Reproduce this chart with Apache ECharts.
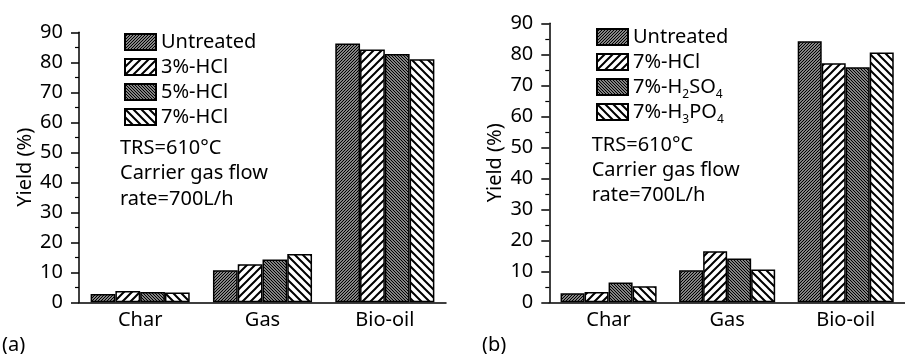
<!DOCTYPE html>
<html>
<head>
<meta charset="utf-8">
<script src="https://cdn.jsdelivr.net/npm/echarts@6/dist/echarts.min.js"></script>
<style>
  html, body { margin: 0; padding: 0; background: #fff; }
  #chart { width: 905px; height: 354px; }
</style>
</head>
<body>
<div id="chart"></div>
<script>
// Product categories shared by both panels
const categories = ['Char', 'Gas', 'Bio-oil'];

// Panel (a): HCl concentration series (yield, %)
const labelsA = ['Untreated', '3%-HCl', '5%-HCl', '7%-HCl'];
const untreatedA = [2.8, 10.7, 86.3];
const hcl3A = [3.8, 12.7, 84.3];
const hcl5A = [3.4, 14.3, 82.8];
const hcl7A = [3.3, 16.1, 81.0];

// Panel (b): acid type series (yield, %)
const labelsB = ['Untreated', '7%-HCl', '7%-H{s|2}SO{s|4}', '7%-H{s|3}PO{s|4}'];
const untreatedB = [2.9, 10.3, 84.2];
const hcl7B = [3.3, 16.5, 77.1];
const h2so4B = [6.4, 14.1, 75.8];
const h3po4B = [5.2, 10.6, 80.6];

// Experimental conditions printed inside each panel
const notes = ['TRS=610°C', 'Carrier gas flow', 'rate=700L/h'];
const panelTags = ['(a)', '(b)'];

const FONT = '"Noto Sans", "DejaVu Sans", sans-serif';

// Diagonal hatch fills drawn on a small tile canvas
function hatch(period, width, rising) {
  const c = document.createElement('canvas');
  c.width = c.height = period;
  const g = c.getContext('2d');
  g.fillStyle = '#fff';
  g.fillRect(0, 0, period, period);
  g.strokeStyle = '#000';
  g.lineWidth = width;
  g.beginPath();
  for (let k = 0; k <= 2; k++) {
    if (rising) {
      g.moveTo(k * period - period - 1, period + 1);
      g.lineTo(k * period + 1, -1);
    } else {
      g.moveTo(k * period - period - 1, -1);
      g.lineTo(k * period + 1, period + 1);
    }
  }
  g.stroke();
  return { image: c, repeat: 'repeat' };
}

const denseRise = hatch(3, 1.4, true);
const wideRise = hatch(8, 2, true);
const denseFall = hatch(3, 1.4, false);
const wideFall = hatch(8, 2, false);

const fillsA = [denseRise, wideRise, denseFall, wideFall];
const fillsB = [denseRise, wideRise, denseFall, wideFall];

const valuesA = [untreatedA, hcl3A, hcl5A, hcl7A];
const valuesB = [untreatedB, hcl7B, h2so4B, h3po4B];

// Series ids for panel (b) carry a prefix so both legends stay independent
const namesA = labelsA.slice();
const namesB = labelsB.map(l => 'b:' + l);

function makeBars(names, values, fills, idx) {
  return names.map((n, i) => ({
    name: n,
    type: 'bar',
    xAxisIndex: idx,
    yAxisIndex: idx,
    data: values[i],
    barGap: '0%',
    barCategoryGap: '19%',
    itemStyle: { color: fills[i], borderColor: '#000', borderWidth: 1.5 },
    emphasis: { disabled: true }
  }));
}

const axisLineStyle = { color: '#000', width: 1.5 };

function yAxisFor(idx) {
  return {
    type: 'value', gridIndex: idx, min: 0, max: 90, interval: 10,
    name: 'Yield (%)', nameLocation: 'middle', nameGap: 44,
    nameTextStyle: { fontSize: 20, fontFamily: FONT, color: '#000' },
    axisLine: { show: true, lineStyle: axisLineStyle },
    axisTick: { show: true, length: 8, lineStyle: axisLineStyle },
    minorTick: { show: true, splitNumber: 2, length: 4, lineStyle: { color: '#000', width: 1.2 } },
    splitLine: { show: false },
    axisLabel: { fontSize: 20, fontFamily: FONT, color: '#000', margin: 16 }
  };
}

function xAxisFor(idx) {
  return {
    type: 'category', gridIndex: idx, data: categories,
    axisLine: { show: true, lineStyle: axisLineStyle },
    axisTick: { show: false },
    axisLabel: { fontSize: 20, fontFamily: FONT, color: '#000', margin: 8 },
    splitLine: { show: false }
  };
}

function legendFor(names, left, top, formatter) {
  return {
    orient: 'vertical', left: left, top: top,
    itemWidth: 31, itemHeight: 16, itemGap: -3, icon: 'rect',
    selectedMode: false,
    data: names,
    formatter: formatter,
    textStyle: {
      fontSize: 20, fontFamily: FONT, color: '#000', lineHeight: 28,
      rich: { s: { fontSize: 12, lineHeight: 12, fontFamily: FONT, color: '#000', verticalAlign: 'bottom' } }
    }
  };
}

function noteTexts(x, y0, step) {
  return notes.map((t, i) => ({
    type: 'text', x: x, y: y0 + i * step, silent: true,
    style: { text: t, font: '20px ' + FONT, fill: '#000', verticalAlign: 'middle' }
  }));
}

const chart = echarts.init(document.getElementById('chart'), null, { renderer: 'canvas' });

chart.setOption({
  animation: false,
  backgroundColor: '#fff',
  grid: [
    { left: 79, top: 32.3, width: 367, height: 270 },
    { left: 549.3, top: 23.3, width: 368, height: 279 }
  ],
  xAxis: [xAxisFor(0), xAxisFor(1)],
  yAxis: [yAxisFor(0), yAxisFor(1)],
  legend: [
    legendFor(namesA, 119, 23, n => n),
    legendFor(namesB, 591, 18, n => n.slice(2))
  ],
  series: makeBars(namesA, valuesA, fillsA, 0).concat(makeBars(namesB, valuesB, fillsB, 1)),
  graphic: noteTexts(120, 148, 25.5).concat(noteTexts(591.7, 145.7, 24.7)).concat([
    { type: 'text', x: 2, y: 345, silent: true,
      style: { text: panelTags[0], font: '20px ' + FONT, fill: '#000', verticalAlign: 'middle' } },
    { type: 'text', x: 482, y: 345, silent: true,
      style: { text: panelTags[1], font: '20px ' + FONT, fill: '#000', verticalAlign: 'middle' } }
  ])
});
</script>
</body>
</html>
